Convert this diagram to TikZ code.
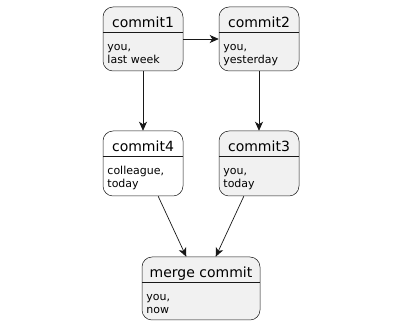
\documentclass[tikz,border=0pt]{standalone}
\usepackage{fontspec}
\setmainfont{DejaVu Sans}
\usetikzlibrary{arrows.meta,calc}
\definecolor{boxfill}{HTML}{F1F1F1}
\definecolor{boxline}{HTML}{181818}
\begin{document}
\begin{tikzpicture}[x=1pt,y=-1pt,
 box/.style={draw=boxline,fill=boxfill,rounded corners=10pt,line width=0.5pt,minimum width=80pt,minimum height=64pt,inner sep=0pt},
 ttl/.style={font=\fontsize{14}{16}\selectfont,anchor=base,inner sep=0pt},
 body/.style={font=\fontsize{11}{13}\selectfont,align=left,anchor=base west,inner sep=0pt},
 arr/.style={draw=boxline,line width=0.7pt,-{Stealth[length=9pt,width=8pt,inset=2.5pt]}},
 sepline/.style={draw=boxline,line width=0.5pt}]
\useasboundingbox (0,0) rectangle (400,326);
% boxes
\node[box] (c1) at (143,39) {};
\node[box] (c2) at (259,39) {};
\node[box,fill=white,minimum height=65pt] (c4) at (143,163.5) {};
\node[box,minimum height=65pt] (c3) at (259,163.5) {};
\node[box,minimum width=118pt,minimum height=63pt] (m) at (201,288.5) {};
% separators
\foreach \n in {c1,c2,c4,c3,m}{
  \draw[sepline] ($(\n.north west)+(0,26)$) -- ($(\n.north east)+(0,26)$);
}
% titles
\node[ttl] (t1) at ($(c1.north)+(0,21)$) {commit1};
\node[ttl] (t2) at ($(c2.north)+(0,21)$) {commit2};
\node[ttl] (t4) at ($(c4.north)+(0,21)$) {commit4};
\node[ttl] (t3) at ($(c3.north)+(0,21)$) {commit3};
\node[ttl] (tm) at ($(m.north)+(0,21)$) {merge commit};
% bodies (base = baseline of last line)
\node[body] (b1) at ($(c1.north west)+(4.5,57)$) {you,\\last week};
\node[body] (b2) at ($(c2.north west)+(4.5,57)$) {you,\\yesterday};
\node[body] (b4) at ($(c4.north west)+(4.5,57)$) {colleague,\\today};
\node[body] (b3) at ($(c3.north west)+(4.5,57)$) {you,\\today};
\node[body] (bm) at ($(m.north west)+(4.5,57)$) {you,\\now};
% arrows
\draw[arr] (c1) -- (c2);
\draw[arr] (c1) -- (c4);
\draw[arr] (c2) -- (c3);
\draw[arr] (c4) -- (m);
\draw[arr] (c3) -- (m);
\end{tikzpicture}
\end{document}
